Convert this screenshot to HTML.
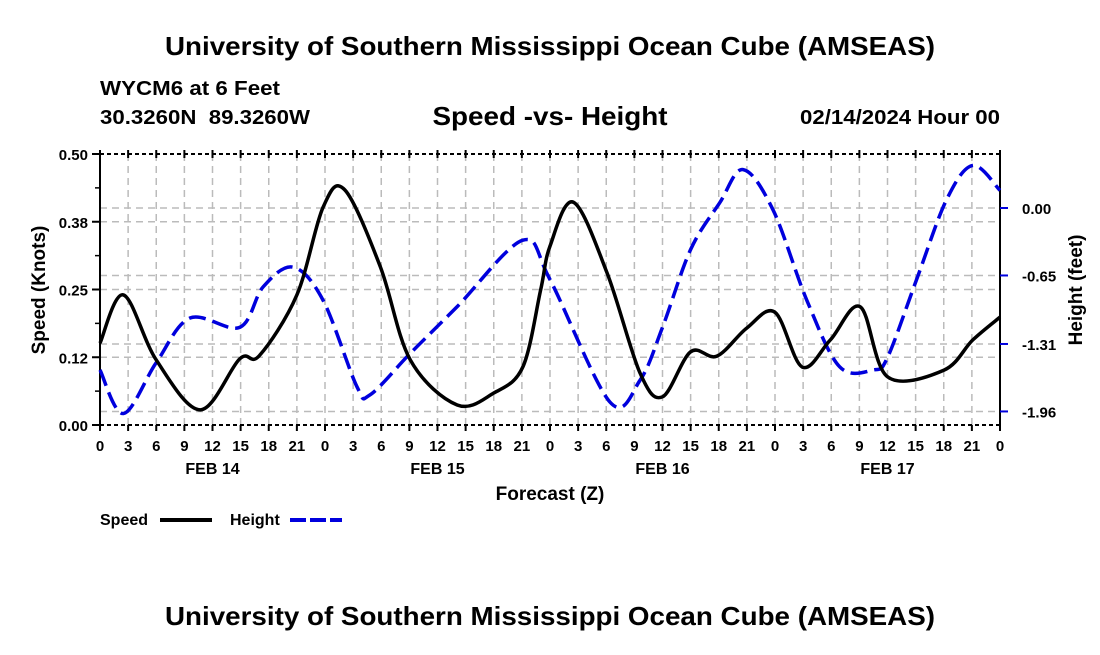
<!DOCTYPE html>
<html><head><meta charset="utf-8"><style>
body{margin:0;background:#fff;}
svg text{font-family:"Liberation Sans",sans-serif;font-weight:bold;fill:#000;}
</style></head><body>
<svg id="c" width="1100" height="650" viewBox="0 0 1100 650">
<text x="550" y="55" text-anchor="middle" font-size="26" textLength="770" lengthAdjust="spacingAndGlyphs">University of Southern Mississippi Ocean Cube (AMSEAS)</text>
<text x="100" y="95" font-size="20" textLength="180" lengthAdjust="spacingAndGlyphs">WYCM6 at 6 Feet</text>
<text x="100" y="124" font-size="20" textLength="210" lengthAdjust="spacingAndGlyphs" xml:space="preserve">30.3260N  89.3260W</text>
<text x="550" y="125" text-anchor="middle" font-size="26" textLength="235" lengthAdjust="spacingAndGlyphs">Speed -vs- Height</text>
<text x="1000" y="124" text-anchor="end" font-size="20" textLength="200" lengthAdjust="spacingAndGlyphs">02/14/2024 Hour 00</text>
<g id="grid"></g>
<g id="axes"></g>
<g id="series"></g>
<text x="550" y="500" text-anchor="middle" font-size="19">Forecast (Z)</text>
<text transform="translate(45,290) rotate(-90)" text-anchor="middle" font-size="19">Speed (Knots)</text>
<text transform="translate(1082,290) rotate(-90)" text-anchor="middle" font-size="19">Height (feet)</text>
<g>
<text x="100" y="525" font-size="16">Speed</text>
<line x1="160" y1="520" x2="212" y2="520" stroke="#000" stroke-width="4"/>
</g>
<g>
<text x="230" y="525" font-size="16">Height</text>
<line x1="290" y1="520" x2="342" y2="520" stroke="#0000dd" stroke-width="4" stroke-dasharray="16,4"/>
</g>
<text x="550" y="625" text-anchor="middle" font-size="26" textLength="770" lengthAdjust="spacingAndGlyphs">University of Southern Mississippi Ocean Cube (AMSEAS)</text>
</svg>
<script>
const speedHours=[0,2.5,6,10.7,14.9,17,21,23.8,26.1,29.9,33.1,38.1,42,45.1,47,48,50.5,54.1,57.6,60,63,65.8,69,72,74.9,77.9,81.1,84,90,93.1,96];
const speedValues=[0.151,0.240,0.120,0.028,0.122,0.128,0.240,0.402,0.434,0.292,0.120,0.037,0.059,0.107,0.249,0.330,0.411,0.280,0.096,0.052,0.135,0.127,0.179,0.208,0.107,0.157,0.218,0.089,0.101,0.157,0.199];
const heightHours=[0,2.5,6,9.6,14.9,17.4,20.6,23.8,27.4,28.8,33.1,38.1,45.1,48,54.4,57.6,60,63,66.1,68.6,71.8,75.4,78.9,82.5,84,87.1,90.3,93.1,96];
const heightValues=[-1.56,-1.98,-1.49,-1.06,-1.15,-0.76,-0.57,-0.89,-1.72,-1.80,-1.40,-0.95,-0.31,-0.69,-1.87,-1.66,-1.15,-0.40,0.05,0.37,-0.02,-0.89,-1.53,-1.56,-1.44,-0.69,0.08,0.41,0.17];
const leftTicks=[0,0.125,0.25,0.375,0.5];
const leftTickLabels=["0.00","0.12","0.25","0.38","0.50"];
const rightTicks=[0,-0.65,-1.31,-1.96];
const rightTickLabels=["0.00","-0.65","-1.31","-1.96"];
const xTickLabels=["0","3","6","9","12","15","18","21","0","3","6","9","12","15","18","21","0","3","6","9","12","15","18","21","0","3","6","9","12","15","18","21","0"];
const dayLabels=["FEB 14","FEB 15","FEB 16","FEB 17"];

const L=100,R=1000,T=154,B=425;
const xS=h=>L+h*(R-L)/96;
const yS=v=>B-v*(B-T)/0.5;
const yH=v=>208-v*103.8;
const NS="http://www.w3.org/2000/svg";
function mk(parent,tag,attrs){const e=document.createElementNS(NS,tag);for(const k in attrs)e.setAttribute(k,attrs[k]);document.getElementById(parent).appendChild(e);return e;}

xTickLabels.forEach((_,i)=>{if(i>0&&i<32){const g=mk('grid','line',{x1:xS(i*3),x2:xS(i*3),y1:T,y2:B,stroke:'#bbb','stroke-width':1.5,'stroke-dasharray':'7,5'});

}});
leftTicks.forEach(v=>{if(v>0&&v<0.5){const g=mk('grid','line',{x1:L,x2:R,y1:yS(v),y2:yS(v),stroke:'#bbb','stroke-width':1.5,'stroke-dasharray':'7,5'});

}});
rightTicks.forEach(v=>{const g=mk('grid','line',{x1:L,x2:R,y1:yH(v),y2:yH(v),stroke:'#bbb','stroke-width':1.5,'stroke-dasharray':'7,5'});

});

[[L,T,L,B,null],[R,T,R,B,null],[L,T,R,T,'4,3'],[L,B,R,B,'4,3']].forEach(a=>{const e=mk('axes','line',{x1:a[0],y1:a[1],x2:a[2],y2:a[3],stroke:'#000','stroke-width':2});if(a[4])e.setAttribute('stroke-dasharray',a[4]);

});
leftTicks.forEach((v,i)=>{mk('axes','line',{x1:L-8,x2:L,y1:yS(v),y2:yS(v),stroke:'#000','stroke-width':2});
const t=mk('axes','text',{x:88,y:yS(v)+6,'text-anchor':'end','font-size':15});t.textContent=leftTickLabels[i];


if(i<leftTicks.length-1)mk('axes','line',{x1:L-5,x2:L,y1:yS(v+0.0625),y2:yS(v+0.0625),stroke:'#000','stroke-width':1.5});});
rightTicks.forEach((v,i)=>{mk('axes','line',{x1:R,x2:R+8,y1:yH(v),y2:yH(v),stroke:'#0000dd','stroke-width':2});
const t=mk('axes','text',{x:1022,y:yH(v)+6,'font-size':15});t.textContent=rightTickLabels[i];

});
xTickLabels.forEach((lab,i)=>{const x=xS(i*3);
mk('axes','line',{x1:x,x2:x,y1:B,y2:B+6,stroke:'#000','stroke-width':2});
mk('axes','line',{x1:x,x2:x,y1:T-4,y2:T+4,stroke:'#000','stroke-width':2});
const t=mk('axes','text',{x:x,y:451,'text-anchor':'middle','font-size':15});t.textContent=lab;

});
dayLabels.forEach((d,i)=>{const t=mk('axes','text',{x:xS(12+24*i),y:474,'text-anchor':'middle','font-size':16});t.textContent=d;

});

function path(xs,ys){const p=xs.map((x,i)=>[x,ys[i]]);let d='M'+p[0][0]+','+p[0][1];
for(let i=0;i<p.length-1;i++){const p0=p[i-1]||p[i],p1=p[i],p2=p[i+1],p3=p[i+2]||p2;
const c1=[p1[0]+(p2[0]-p0[0])/6,p1[1]+(p2[1]-p0[1])/6],c2=[p2[0]-(p3[0]-p1[0])/6,p2[1]-(p3[1]-p1[1])/6];
d+=' C'+c1+' '+c2+' '+p2;}return d;}
const hp=mk('series','path',{d:path(heightHours.map(xS),heightValues.map(yH)),fill:'none',stroke:'#0000dd','stroke-width':3.5,'stroke-dasharray':'17,7'});


const sp=mk('series','path',{d:path(speedHours.map(xS),speedValues.map(yS)),fill:'none',stroke:'#000','stroke-width':3.5});


</script>
</body></html>
